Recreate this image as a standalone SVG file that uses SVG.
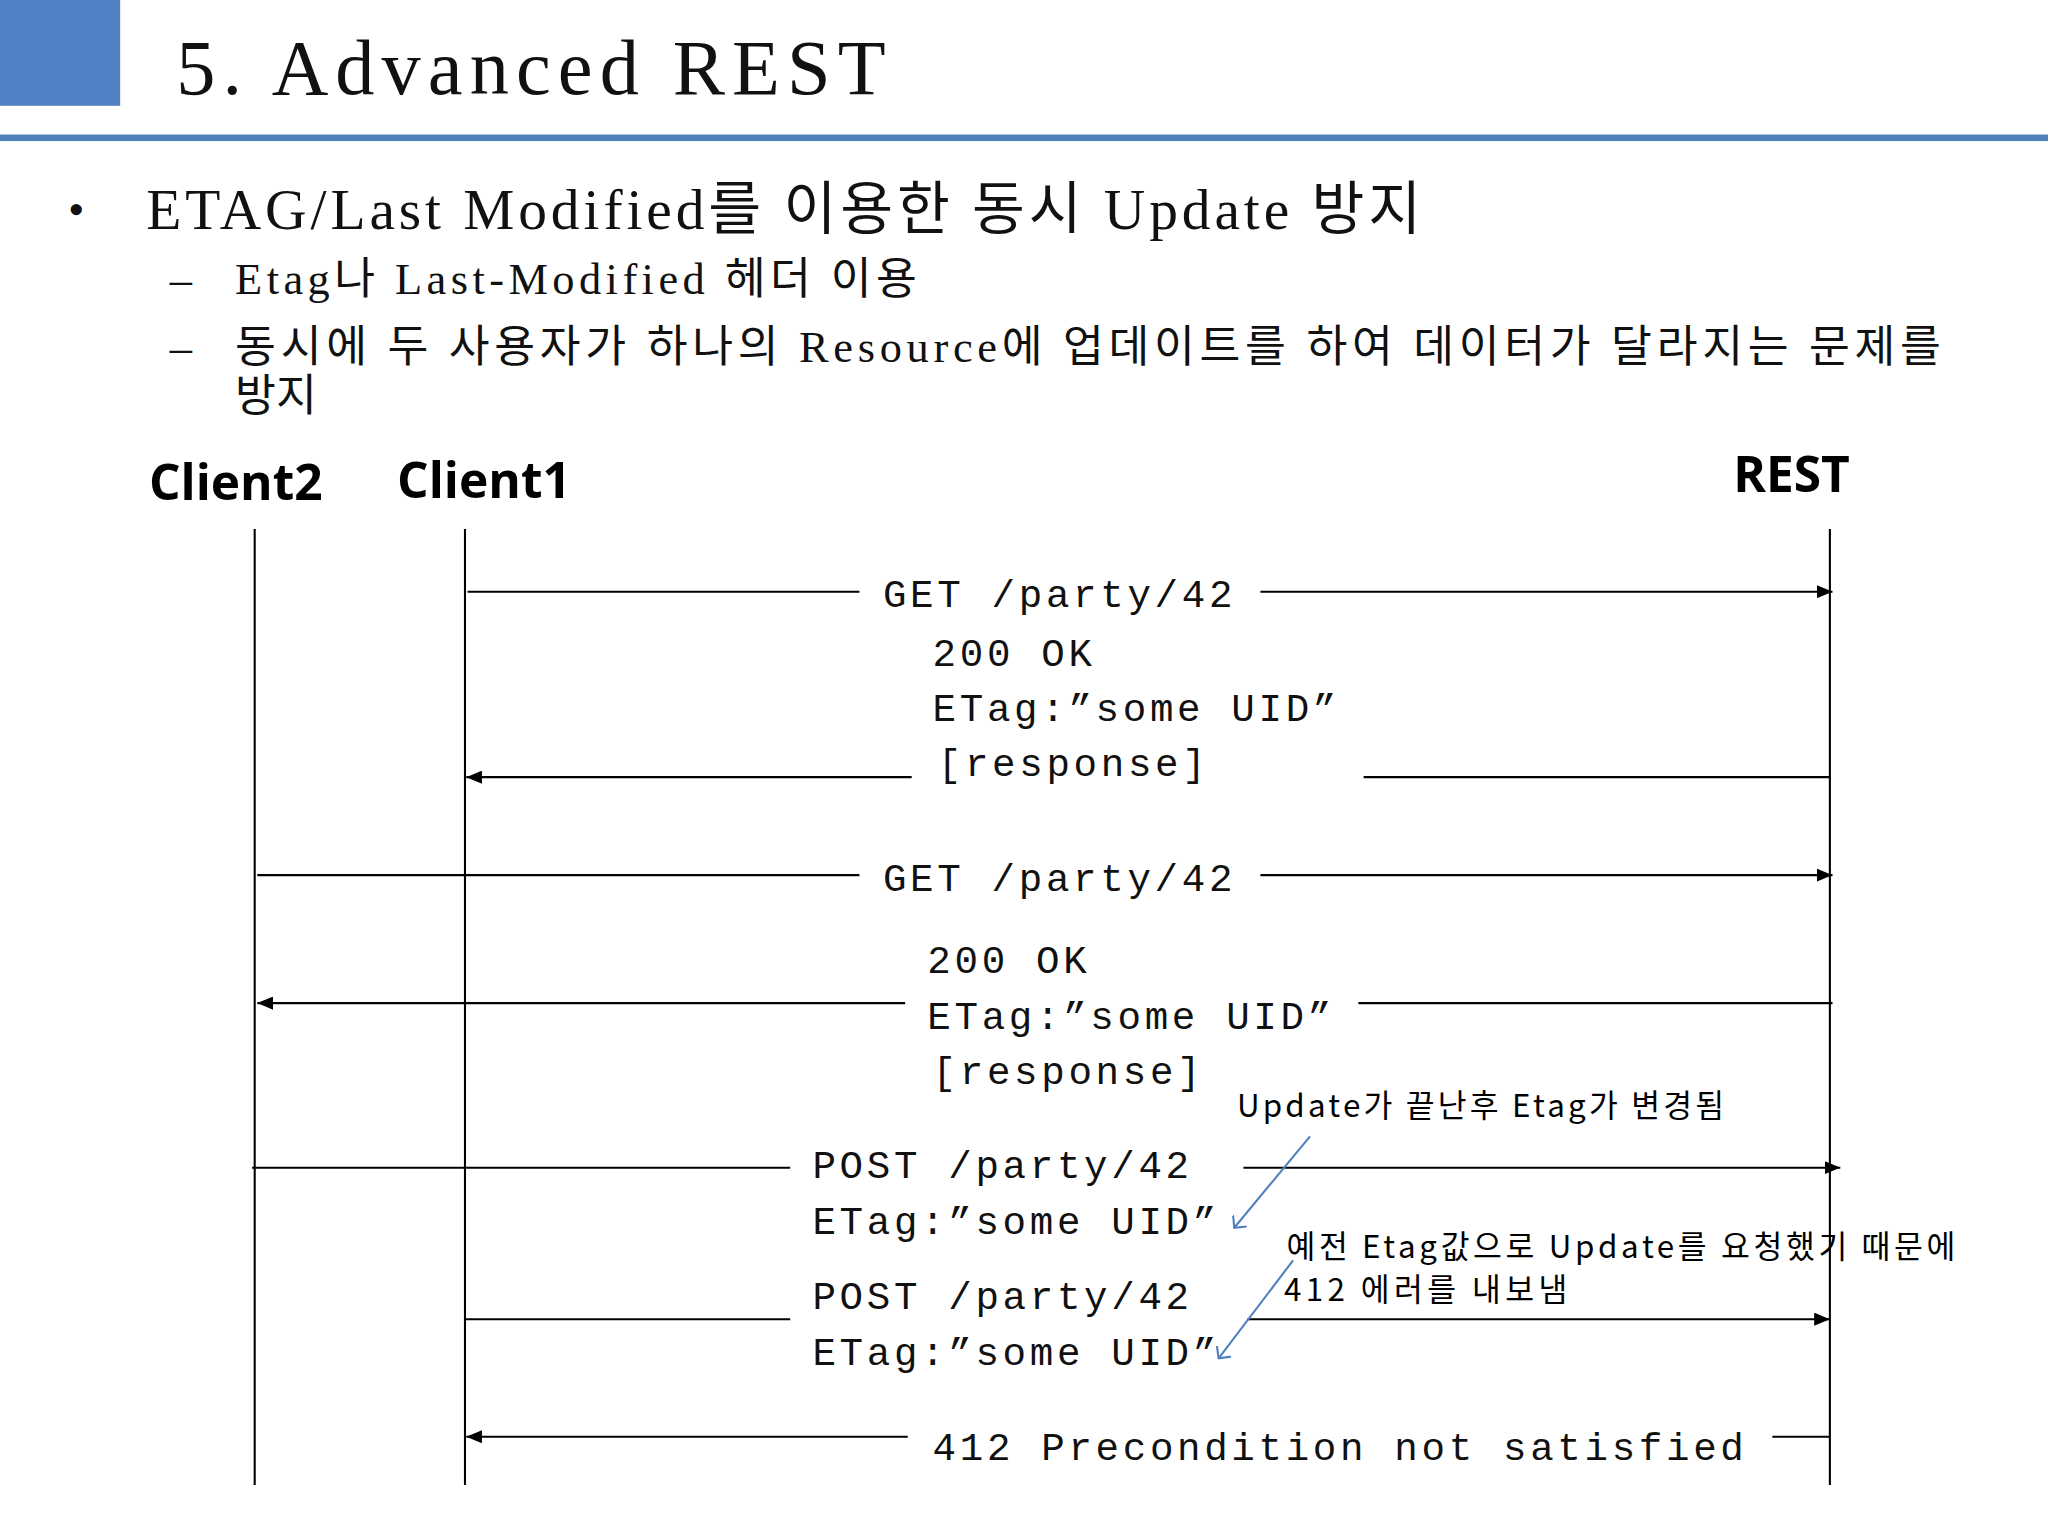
<svg xmlns="http://www.w3.org/2000/svg" width="2048" height="1536" viewBox="0 0 2048 1536">
<style>
.ser{font-family:"Liberation Serif","Noto Sans CJK KR",serif;fill:#111}
.mono{font-family:"Liberation Mono","DejaVu Sans Mono",monospace;font-size:30px;letter-spacing:2.8px;fill:#111}
.hd{font-family:"Open Sans","Noto Sans",sans-serif;font-weight:bold;font-size:38px;fill:#000}
.ann{font-family:"Noto Sans CJK KR","Noto Sans",sans-serif;font-size:24px;fill:#000}
.ln{stroke:#000;stroke-width:1.6;fill:none}
.bl{stroke:#4f7fc0;stroke-width:1.6;fill:none}
</style>
<defs>
<marker id="ah" markerWidth="12" markerHeight="10" refX="12" refY="5" orient="auto" markerUnits="userSpaceOnUse"><path d="M0,0 L12,5 L0,10 z" fill="#000"/></marker>
<marker id="bh" markerWidth="14" markerHeight="14" refX="7" refY="7" orient="auto" markerUnits="userSpaceOnUse"><path d="M0,0 L7,7 L0,14" fill="none" stroke="#4f7fc0" stroke-width="1.6"/></marker>
</defs>
<rect width="2048" height="1536" fill="#fff"/>
<g transform="scale(1.30612)">
<g id="header">
<rect x="0" y="0" width="92" height="81" fill="#4f81c4"/>
<text x="135" y="72" class="ser" font-size="60" textLength="543">5. Advanced REST</text>
<rect x="0" y="103" width="1568" height="5" fill="#4f7fba"/>
</g>
<g id="bullets">
<text x="52" y="172" class="ser" font-size="36">•</text>
<text x="112" y="175" class="ser" font-size="44" textLength="976">ETAG/Last Modified를 이용한 동시 Update 방지</text>
<text x="130" y="225" class="ser" font-size="34">–</text>
<text x="180" y="225" class="ser" font-size="34" textLength="522">Etag나 Last-Modified 헤더 이용</text>
<text x="130" y="277" class="ser" font-size="34">–</text>
<text x="180" y="277" class="ser" font-size="34" textLength="1306">동시에 두 사용자가 하나의 Resource에 업데이트를 하여 데이터가 달라지는 문제를</text>
<text x="180" y="315" class="ser" font-size="34">방지</text>
</g>
<g id="client2"><text x="114" y="383" class="hd">Client2</text><line class="ln" x1="195" y1="405" x2="195" y2="1137"/></g>
<g id="client1"><text x="304" y="381" class="hd">Client1</text><line class="ln" x1="356" y1="405" x2="356" y2="1137"/></g>
<g id="rest"><text x="1327" y="377" class="hd">REST</text><line class="ln" x1="1401" y1="405" x2="1401" y2="1137"/></g>
<g id="connectors">
<line class="ln" x1="358" y1="453" x2="658" y2="453"/>
<line class="ln" x1="965" y1="453" x2="1403" y2="453" marker-end="url(#ah)"/>
<text x="676" y="465" class="mono">GET /party/42</text>
<text x="714" y="510" class="mono">200 OK</text>
<text x="714" y="552" class="mono">ETag:”some UID”</text>
<text x="718" y="594" class="mono">[response]</text>
<line class="ln" x1="698" y1="595" x2="357" y2="595" marker-end="url(#ah)"/>
<line class="ln" x1="1044" y1="595" x2="1401" y2="595"/>

<line class="ln" x1="197" y1="670" x2="658" y2="670"/>
<line class="ln" x1="965" y1="670" x2="1403" y2="670" marker-end="url(#ah)"/>
<text x="676" y="682" class="mono">GET /party/42</text>

<text x="710" y="745" class="mono">200 OK</text>
<text x="710" y="788" class="mono">ETag:”some UID”</text>
<text x="714" y="830" class="mono">[response]</text>
<line class="ln" x1="693" y1="768" x2="197" y2="768" marker-end="url(#ah)"/>
<line class="ln" x1="1040" y1="768" x2="1403" y2="768"/>

<line class="ln" x1="193" y1="894" x2="605" y2="894"/>
<line class="ln" x1="952" y1="894" x2="1409" y2="894" marker-end="url(#ah)"/>
<text x="622" y="902" class="mono">POST /party/42</text>
<text x="622" y="945" class="mono">ETag:”some UID”</text>

<line class="ln" x1="356" y1="1010" x2="605" y2="1010"/>
<line class="ln" x1="955" y1="1010" x2="1401" y2="1010" marker-end="url(#ah)"/>
<text x="622" y="1002" class="mono">POST /party/42</text>
<text x="622" y="1045" class="mono">ETag:”some UID”</text>

<line class="ln" x1="695" y1="1100" x2="357" y2="1100" marker-end="url(#ah)"/>
<line class="ln" x1="1357" y1="1100" x2="1401" y2="1100"/>
<text x="714" y="1118" class="mono">412 Precondition not satisfied</text>

<line class="bl" x1="1003" y1="870" x2="945" y2="940" marker-end="url(#bh)"/>
<line class="bl" x1="990" y1="965" x2="933" y2="1040" marker-end="url(#bh)"/>
</g>
<g id="annotations">
<text x="947" y="855" class="ann" textLength="373">Update가 끝난후 Etag가 변경됨</text>
<text x="985" y="963" class="ann" textLength="512">예전 Etag값으로 Update를 요청했기 때문에</text>
<text x="983" y="996" class="ann" textLength="217">412 에러를 내보냄</text>
</g>
</g>
</svg>
